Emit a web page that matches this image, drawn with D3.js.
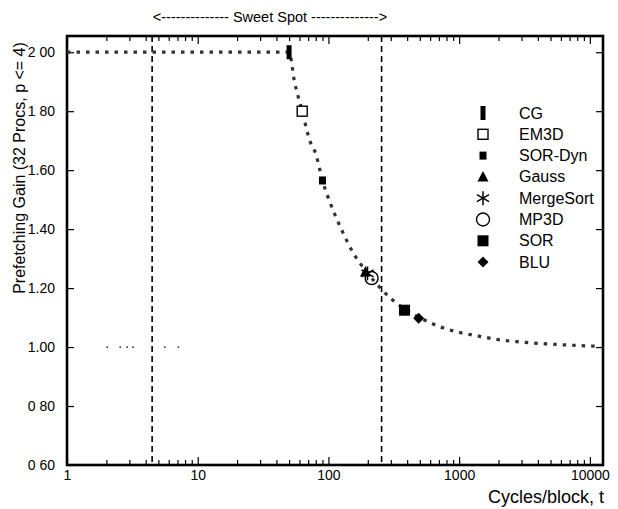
<!DOCTYPE html>
<html>
<head>
<meta charset="utf-8">
<script src="https://cdn.jsdelivr.net/npm/d3@7"></script>
<style>
  html, body { margin: 0; padding: 0; background: #fff; }
  svg { display: block; font-family: "Liberation Sans", Arial, Helvetica, sans-serif; }
</style>
</head>
<body>
<svg id="chart" width="618" height="509"></svg>
<script>
// ---- data ----
const benchmarks = ["CG", "EM3D", "SOR-Dyn", "Gauss", "MergeSort", "MP3D", "SOR", "BLU"];
const benchT     = [50, 63, 90, 192, 199, 214, 382, 490];
const benchGain  = [2.00, 1.80, 1.565, 1.255, 1.25, 1.234, 1.125, 1.098];

// the dotted model curve
const curveT    = [1, 50, 55, 63, 72, 80, 90, 105, 124, 150, 200, 250, 300, 380, 500, 700, 1000, 1500, 2000, 3000, 5000, 11000];
const curveGain = [2.00, 2.00, 1.90, 1.80, 1.70, 1.655, 1.565, 1.48, 1.405, 1.33, 1.25, 1.20, 1.165, 1.13, 1.10, 1.07, 1.05, 1.035, 1.025, 1.017, 1.01, 1.003];

// stray dots at gain 1.00
const dotT    = [2.03, 2.55, 2.88, 3.2, 5.6, 7.1];
const dotGain = [1.00, 1.00, 1.00, 1.00, 1.00, 1.00];

// sweet spot bounds
const sweetSpot = [4.48, 255];

const xTickValues = [1, 10, 100, 1000, 10000];
const xTickLabels = ["1", "10", "100", "1000", "10000"];
const yTickValues = [0.6, 0.8, 1.0, 1.2, 1.4, 1.6, 1.8, 2.0];
const yTickLabels = ["0 60", "0 80", "1.00", "1.20", "1.40", "1.60", "1 80", "2 00"];

const xTitle = "Cycles/block, t";
const yTitle = "Prefetching Gain (32 Procs, p <= 4)";
const sweetLabel = "<-------------- Sweet Spot -------------->";

// ---- layout ----
const L = 67, R = 603, T = 36, B = 465;
const svg = d3.select("#chart");
const x = d3.scaleLog().domain([1, 12600]).range([L, R]);
const y = d3.scaleLinear().domain([0.6, 2.055]).range([B, T]);

// minor ticks for log axis
const minorX = [];
for (let d = 1; d <= 10000; d *= 10) for (let k = 2; k <= 9; k++) if (d * k < 12600) minorX.push(d * k);

function styleAxis(g) {
  g.select(".domain").remove();
  g.selectAll("line").attr("stroke", "#000").attr("stroke-width", 1.2);
  g.selectAll("text").attr("fill", "#000").attr("font-size", 14)
    .attr("font-family", '"Liberation Sans", Arial, sans-serif');
}

// bottom axis
svg.append("g").attr("transform", `translate(0,${B})`)
  .call(d3.axisBottom(x).tickValues(xTickValues).tickSize(-8).tickPadding(5)
    .tickFormat((d, i) => xTickLabels[i]))
  .call(styleAxis);
svg.append("g").attr("transform", `translate(0,${B})`)
  .call(d3.axisBottom(x).tickValues(minorX).tickSize(-5).tickFormat(""))
  .call(styleAxis);
// top axis
svg.append("g").attr("transform", `translate(0,${T})`)
  .call(d3.axisTop(x).tickValues(xTickValues).tickSize(-8).tickFormat(""))
  .call(styleAxis);
svg.append("g").attr("transform", `translate(0,${T})`)
  .call(d3.axisTop(x).tickValues(minorX).tickSize(-5).tickFormat(""))
  .call(styleAxis);
// left axis
svg.append("g").attr("transform", `translate(${L},0)`)
  .call(d3.axisLeft(y).tickValues(yTickValues).tickSize(-7).tickPadding(12)
    .tickFormat((d, i) => yTickLabels[i]))
  .call(styleAxis);
// right axis
svg.append("g").attr("transform", `translate(${R},0)`)
  .call(d3.axisRight(y).tickValues(yTickValues).tickSize(-7).tickFormat(""))
  .call(styleAxis);

// frame
svg.append("rect").attr("x", L).attr("y", T).attr("width", R - L).attr("height", B - T)
  .attr("fill", "none").attr("stroke", "#000").attr("stroke-width", 2.6);

// sweet spot dashed lines
svg.selectAll("line.sweet").data(sweetSpot).enter().append("line")
  .attr("class", "sweet")
  .attr("x1", d => x(d)).attr("x2", d => x(d))
  .attr("y1", T).attr("y2", B)
  .attr("stroke", "#000").attr("stroke-width", 1.6).attr("stroke-dasharray", "6,4");

// stray dots
svg.selectAll("circle.stray").data(dotT).enter().append("circle")
  .attr("class", "stray")
  .attr("cx", d => x(d)).attr("cy", (d, i) => y(dotGain[i])).attr("r", 0.9).attr("fill", "#222");

// curve
const curveData = curveT.map((t, i) => [t, curveGain[i]]);
svg.append("path").datum(curveData)
  .attr("d", d3.line().x(d => x(d[0])).y(d => y(d[1])).curve(d3.curveMonotoneX))
  .attr("fill", "none").attr("stroke", "#333").attr("stroke-width", 3.2)
  .attr("stroke-dasharray", "3.5,6");

// symbols
function drawSymbol(g, name, cx, cy) {
  switch (name) {
    case "CG":
      g.append("rect").attr("x", cx - 2.5).attr("y", cy - 7).attr("width", 5).attr("height", 14).attr("fill", "#000");
      break;
    case "EM3D":
      g.append("rect").attr("x", cx - 5).attr("y", cy - 5).attr("width", 10).attr("height", 10)
        .attr("fill", "#fff").attr("stroke", "#000").attr("stroke-width", 1.4);
      break;
    case "SOR-Dyn":
      g.append("rect").attr("x", cx - 3.5).attr("y", cy - 4).attr("width", 7).attr("height", 8).attr("fill", "#000");
      break;
    case "Gauss":
      g.append("path").attr("d", `M${cx},${cy - 6}L${cx + 5.5},${cy + 4.5}L${cx - 5.5},${cy + 4.5}Z`).attr("fill", "#000");
      break;
    case "MergeSort": {
      const r = 7;
      const p = [[0, -r, 0, r], [-r * 0.87, -r * 0.5, r * 0.87, r * 0.5], [-r * 0.87, r * 0.5, r * 0.87, -r * 0.5]];
      p.forEach(a => g.append("line")
        .attr("x1", cx + a[0]).attr("y1", cy + a[1]).attr("x2", cx + a[2]).attr("y2", cy + a[3])
        .attr("stroke", "#000").attr("stroke-width", 1.5));
      break;
    }
    case "MP3D":
      g.append("circle").attr("cx", cx).attr("cy", cy).attr("r", 6.5)
        .attr("fill", "none").attr("stroke", "#000").attr("stroke-width", 1.4);
      break;
    case "SOR":
      g.append("rect").attr("x", cx - 5.5).attr("y", cy - 5.5).attr("width", 11).attr("height", 11).attr("fill", "#000");
      break;
    case "BLU":
      g.append("path").attr("d", `M${cx},${cy - 5.5}L${cx + 5.5},${cy}L${cx},${cy + 5.5}L${cx - 5.5},${cy}Z`).attr("fill", "#000");
      break;
  }
}

const marks = svg.append("g");
benchmarks.forEach((name, i) => drawSymbol(marks, name, x(benchT[i]), y(benchGain[i])));

// legend
const legend = svg.append("g");
benchmarks.forEach((name, i) => {
  const ly = 113 + i * 21.3;
  drawSymbol(legend, name, 483, ly);
  legend.append("text").attr("x", 519).attr("y", ly + 5.5).attr("font-size", 16).text(name);
});

// titles
svg.append("text").attr("x", 270).attr("y", 22).attr("text-anchor", "middle")
  .attr("font-size", 14.5).text(sweetLabel);
svg.append("text").attr("x", 604).attr("y", 503).attr("text-anchor", "end")
  .attr("font-size", 18).text(xTitle);
svg.append("text").attr("transform", "translate(25,168) rotate(-90)")
  .attr("text-anchor", "middle").attr("font-size", 16).text(yTitle);
</script>
</body>
</html>
